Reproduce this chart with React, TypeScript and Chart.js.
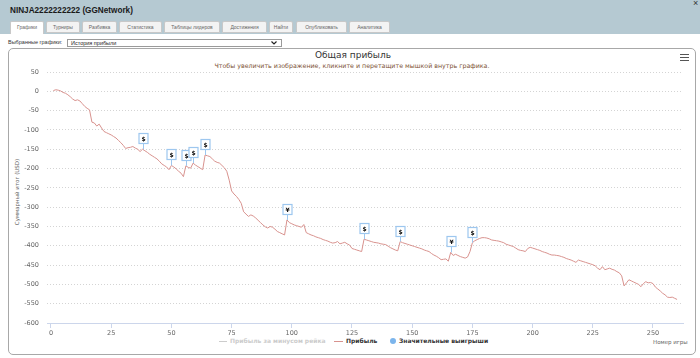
import React, { useEffect, useRef } from 'react';
import { Chart, registerables } from 'chart.js';
Chart.register(...registerables);

// cumulative profit per game (game number = index + 1)
const profit = [
  2, 4, 3, 1, -3, -5, -9, -14, -20, -24,
  -22, -25, -32, -39, -44, -48, -80, -82, -90, -85,
  -95, -104, -107, -110, -113, -117, -121, -127, -133, -140,
  -148, -146, -145, -143, -147, -150, -156, -150, -154, -158,
  -163, -167, -171, -175, -181, -188, -192, -196, -203, -192,
  -196, -201, -207, -212, -221, -193, -197, -199, -186, -191,
  -195, -199, -203, -165, -167, -169, -175, -181, -184, -186,
  -192, -198, -207, -230, -258, -266, -272, -280, -290, -312,
  -318, -324, -320, -323, -328, -334, -340, -346, -351, -354,
  -350, -352, -357, -363, -366, -369, -372, -333, -340, -343,
  -346, -348, -350, -352, -345, -366, -369, -372, -374, -377,
  -379, -381, -384, -386, -388, -391, -393, -392, -389, -395,
  -393, -391, -395, -398, -407, -409, -411, -413, -415, -383,
  -385, -387, -389, -391, -392, -393, -395, -396, -397, -401,
  -405, -408, -411, -413, -389, -392, -394, -396, -398, -400,
  -402, -404, -406, -408, -411, -413, -415, -420, -424, -427,
  -431, -436, -435, -434, -440, -417, -425, -422, -425, -428,
  -430, -432, -429, -415, -392, -387, -384, -381, -379, -379,
  -380, -382, -385, -386, -387, -388, -390, -392, -396, -398,
  -400, -402, -406, -410, -412, -413, -415, -407, -404, -406,
  -408, -410, -412, -415, -417, -419, -422, -424, -424, -425,
  -426, -428, -430, -433, -435, -437, -440, -443, -437, -439,
  -441, -443, -445, -447, -449, -452, -458, -462, -454, -462,
  -460, -458, -461, -463, -467, -470, -478, -504, -496, -488,
  -491, -494, -497, -500, -506, -498, -493, -496, -495, -498,
  -507, -512, -517, -523, -527, -533, -534, -533, -536, -539,
];
const games = profit.map((_, i) => i + 1);

const flagGames = [38, 50, 56, 59, 64, 98, 130, 145, 166, 175];
const flagSymbols = ['$', '$', '$', '$', '$', '¥', '$', '$', '¥', '$'];

const xTicks = [0, 25, 50, 75, 100, 125, 150, 175, 200, 225, 250];
const yTicks = [50, 0, -50, -100, -150, -200, -250, -300, -350, -400, -450, -500, -550, -600];

const tabs = [
  { label: 'Графики', left: 10, width: 34, active: true },
  { label: 'Турниры', left: 46, width: 34 },
  { label: 'Разбивка', left: 82, width: 35 },
  { label: 'Статистика', left: 119, width: 43 },
  { label: 'Таблицы лидеров', left: 164, width: 56 },
  { label: 'Достижения', left: 222, width: 45 },
  { label: 'Найти', left: 269, width: 24 },
  { label: 'Опубликовать', left: 296, width: 51 },
  { label: 'Аналитика', left: 349, width: 41 },
];

const F = '"DejaVu Sans", Verdana, sans-serif';
const A = '"Liberation Sans", Arial, sans-serif';

const flagPlugin = {
  id: 'flags',
  afterDatasetsDraw(chart: any) {
    const { ctx, scales } = chart;
    const xs = scales.x, ys = scales.y;
    ctx.save();
    flagGames.forEach((g, i) => {
      const v = profit[g - 1];
      const px = Math.round(xs.getPixelForValue(g)) + 0.5;
      const py = ys.getPixelForValue(v);
      const w = 9, h = 10, pole = 6;
      ctx.strokeStyle = '#9dc7ef';
      ctx.lineWidth = 1;
      ctx.beginPath();
      ctx.moveTo(px, py);
      ctx.lineTo(px, py - pole);
      ctx.stroke();
      const bx = px - w / 2, by = Math.round(py - pole - h) + 0.5;
      ctx.fillStyle = '#fff';
      ctx.fillRect(bx, by, w, h);
      ctx.lineWidth = 1.2;
      ctx.strokeRect(bx, by, w, h);
      ctx.fillStyle = '#111';
      ctx.font = 'bold 6px ' + F;
      ctx.textAlign = 'center';
      ctx.textBaseline = 'middle';
      ctx.fillText(flagSymbols[i], px, by + h / 2 + 0.5);
    });
    ctx.restore();
  },
};

export default function App() {
  const ref = useRef<HTMLCanvasElement>(null);
  useEffect(() => {
    const chart = new Chart(ref.current as HTMLCanvasElement, {
      type: 'line',
      data: {
        datasets: [
          {
            data: games.map((g, i) => ({ x: g, y: profit[i] })),
            borderColor: '#d8928e',
            borderWidth: 1,
            pointRadius: 0,
            tension: 0,
            fill: false,
          },
        ],
      },
      options: {
        animation: false,
        responsive: false,
        devicePixelRatio: 1,
        layout: { padding: { top: 72, right: 17, bottom: 0, left: 0 } },
        plugins: { legend: { display: false }, tooltip: { enabled: false } },
        scales: {
          x: {
            type: 'linear',
            min: -1.66,
            max: 262.46,
            afterBuildTicks: (s: any) => {
              s.ticks = xTicks.map((v) => ({ value: v }));
            },
            afterFit: (s: any) => {
              s.height = 35;
            },
            grid: { drawOnChartArea: false, drawTicks: true, tickLength: 5, color: '#ccd6eb' },
            border: { color: '#ccd6eb', width: 1 },
            ticks: { font: { family: F, size: 6.5 }, color: '#666', padding: 1, maxRotation: 0, autoSkip: false },
          },
          y: {
            type: 'linear',
            min: -600,
            max: 50,
            afterBuildTicks: (s: any) => {
              s.ticks = yTicks.map((v) => ({ value: v }));
            },
            afterFit: (s: any) => {
              s.width = 47;
            },
            grid: { color: '#d4d4d4', drawTicks: false, lineWidth: 1 },
            border: { display: false, dash: [1, 2] },
            ticks: { font: { family: F, size: 6.5 }, color: '#666', padding: 8 },
          },
        },
      } as any,
      plugins: [flagPlugin],
    });
    return () => chart.destroy();
  }, []);

  return (
    <div style={{ position: 'fixed', left: 0, top: 0, width: 700, height: 358, background: '#fff', overflow: 'hidden', fontFamily: A }}>
      {/* header */}
      <div style={{ position: 'absolute', left: 0, top: 0, width: 700, height: 34, background: '#b5c9d2' }} />
      <div style={{ position: 'absolute', left: 10, top: 5, fontSize: 8.2, lineHeight: '11px', fontWeight: 'bold', color: '#1a1a1a', whiteSpace: 'nowrap' }}>
        NINJA2222222222 (GGNetwork)
      </div>
      <div style={{ position: 'absolute', left: 693, top: -2, fontSize: 9, color: '#333' }}>×</div>
      {tabs.map((t) => (
        <div
          key={t.label}
          style={{
            position: 'absolute',
            left: t.left,
            top: 21,
            width: t.width,
            height: t.active ? 13 : 12,
            boxSizing: 'border-box',
            background: t.active ? '#fff' : '#f3f3f3',
            border: '1px solid #c8c8c8',
            borderBottom: t.active ? 'none' : '1px solid #c8c8c8',
            borderRadius: '2px 2px 0 0',
            fontSize: 5,
            lineHeight: '11px',
            textAlign: 'center',
            color: '#666',
            whiteSpace: 'nowrap',
          }}
        >
          {t.label}
        </div>
      ))}
      {/* selector row */}
      <div style={{ position: 'absolute', left: 8, top: 39, fontSize: 5.5, lineHeight: '7px', color: '#333', whiteSpace: 'nowrap' }}>
        Выбранные графики:
      </div>
      <div
        style={{
          position: 'absolute',
          left: 67,
          top: 39,
          width: 215,
          height: 8,
          boxSizing: 'border-box',
          border: '1px solid #9a9a9a',
          fontSize: 5.5,
          lineHeight: '6px',
          paddingLeft: 3,
          color: '#222',
          whiteSpace: 'nowrap',
        }}
      >
        История прибыли
        <svg style={{ position: 'absolute', right: 4, top: 1 }} width="6" height="4">
          <polyline points="0.5,0.5 3,3 5.5,0.5" fill="none" stroke="#222" strokeWidth="1.2" />
        </svg>
      </div>
      {/* chart box */}
      <div
        style={{
          position: 'absolute',
          left: 8,
          top: 48,
          width: 688,
          height: 307,
          boxSizing: 'border-box',
          border: '1px solid #a8a8a8',
          borderRadius: 5,
        }}
      />
      <div style={{ position: 'absolute', left: 0, top: 49, width: 706, textAlign: 'center', fontFamily: F, fontSize: 9, lineHeight: '12px', color: '#333' }}>
        Общая прибыль
      </div>
      <div style={{ position: 'absolute', left: 0, top: 62, width: 704, textAlign: 'center', fontFamily: F, fontSize: 6.3, lineHeight: '8px', color: '#7d5236', whiteSpace: 'nowrap' }}>
        Чтобы увеличить изображение, кликните и перетащите мышкой внутрь графика.
      </div>
      {/* hamburger */}
      {[0, 1, 2].map((k) => (
        <div key={k} style={{ position: 'absolute', left: 680, top: 54 + k * 3, width: 9, height: 1.3, background: '#555' }} />
      ))}
      {/* y axis title */}
      <div
        style={{
          position: 'absolute',
          left: 17,
          top: 192,
          transform: 'translate(-50%, -50%) rotate(-90deg)',
          fontFamily: F,
          fontSize: 5.5,
          color: '#666',
          whiteSpace: 'nowrap',
        }}
      >
        Суммарный итог (USD)
      </div>
      {/* x axis title */}
      <div style={{ position: 'absolute', left: 653, top: 339, fontFamily: F, fontSize: 5.5, lineHeight: '7px', color: '#666', whiteSpace: 'nowrap' }}>
        Номер игры
      </div>
      {/* legend */}
      <div style={{ position: 'absolute', left: 219, top: 340.5, width: 8, height: 1, background: '#cccccc' }} />
      <div style={{ position: 'absolute', left: 230, top: 337, fontFamily: F, fontSize: 6, lineHeight: '8px', fontWeight: 'bold', color: '#cccccc', whiteSpace: 'nowrap' }}>
        Прибыль за минусом рейка
      </div>
      <div style={{ position: 'absolute', left: 334, top: 340.5, width: 9, height: 1, background: '#d8928e' }} />
      <div style={{ position: 'absolute', left: 346, top: 337, fontFamily: F, fontSize: 6, lineHeight: '8px', fontWeight: 'bold', color: '#333', whiteSpace: 'nowrap' }}>
        Прибыль
      </div>
      <div style={{ position: 'absolute', left: 390, top: 338, width: 6, height: 6, borderRadius: 3, background: '#7cb5ec' }} />
      <div style={{ position: 'absolute', left: 399, top: 337, fontFamily: F, fontSize: 6, lineHeight: '8px', fontWeight: 'bold', color: '#333', whiteSpace: 'nowrap' }}>
        Значительные выигрыши
      </div>
      <canvas
        ref={ref}
        width={700}
        height={358}
        style={{ position: 'absolute', left: 0, top: 0, width: 700, height: 358, pointerEvents: 'none' }}
      />
    </div>
  );
}
